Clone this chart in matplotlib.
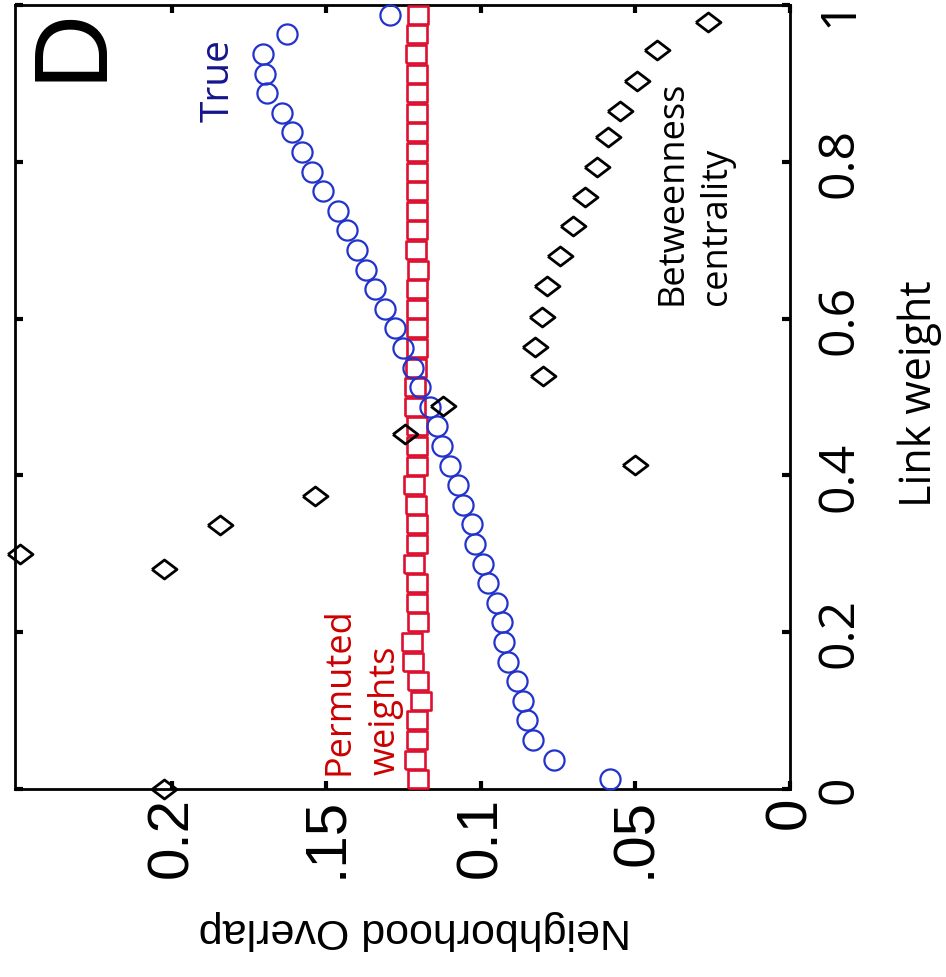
import matplotlib
matplotlib.use("Agg")
import matplotlib.pyplot as plt
import matplotlib.transforms as mtransforms
import numpy as np

# ---------------- data ----------------
# link weight bins (40 bins) for "True" and "Permuted weights"
weights_true = [0.0125, 0.0375, 0.0625, 0.0875, 0.1125, 0.1375, 0.1625, 0.1875,
                0.2125, 0.2375, 0.2625, 0.2875, 0.3125, 0.3375, 0.3625, 0.3875,
                0.4125, 0.4375, 0.4625, 0.4875, 0.5125, 0.5375, 0.5625, 0.5875,
                0.6125, 0.6375, 0.6625, 0.6875, 0.7125, 0.7375, 0.7625, 0.7875,
                0.8125, 0.8375, 0.8625, 0.8875, 0.9125, 0.9375, 0.9625, 0.9875]
overlap_true = [0.0583, 0.0764, 0.0832, 0.0851, 0.0864, 0.0883, 0.0913, 0.0926,
                0.0932, 0.0948, 0.0977, 0.0994, 0.1019, 0.1029, 0.1058, 0.1074,
                0.1100, 0.1126, 0.1142, 0.1165, 0.1197, 0.1220, 0.1252, 0.1278,
                0.1311, 0.1343, 0.1372, 0.1401, 0.1434, 0.1463, 0.1511, 0.1547,
                0.1579, 0.1612, 0.1644, 0.1693, 0.1699, 0.1706, 0.1628, 0.1294]
overlap_permuted = [0.1203, 0.1214, 0.1208, 0.1208, 0.1195, 0.1203, 0.1219, 0.1224,
                    0.1203, 0.1206, 0.1208, 0.1216, 0.1208, 0.1206, 0.1210, 0.1216,
                    0.1206, 0.1208, 0.1208, 0.1214, 0.1214, 0.1210, 0.1206, 0.1206,
                    0.1208, 0.1208, 0.1203, 0.1210, 0.1208, 0.1206, 0.1208, 0.1208,
                    0.1208, 0.1208, 0.1206, 0.1208, 0.1208, 0.1210, 0.1208, 0.1203]
weights_btw = [0.0, 0.281, 0.300, 0.337, 0.374, 0.413, 0.453, 0.489, 0.527, 0.564,
               0.602, 0.642, 0.680, 0.718, 0.755, 0.793, 0.832, 0.865, 0.903,
               0.943, 0.978]
overlap_btw = [0.2026, 0.2026, 0.2492, 0.1845, 0.1537, 0.0502, 0.1246, 0.1123,
               0.0799, 0.0825, 0.0803, 0.0786, 0.0744, 0.0702, 0.0663, 0.0625,
               0.0589, 0.0550, 0.0495, 0.0430, 0.0265]

overlap_ticks = [0, 0.05, 0.1, 0.15, 0.2]
overlap_ticklabels = ["0", ".05", "0.1", ".15", "0.2"]
weight_ticks = [0, 0.2, 0.4, 0.6, 0.8, 1.0]
weight_ticklabels = ["0", "0.2", "0.4", "0.6", "0.8", "1"]

# ---------------- figure ----------------
W, H = 946, 978
fig = plt.figure(figsize=(W / 100, H / 100), dpi=100)
ax = fig.add_axes([15 / W, (H - 790) / H, 775 / W, 784 / H])

diamond = [(-1, 0), (0, 0.76), (1, 0), (0, -0.76), (-1, 0)]
rect = [(-1, -0.88), (1, -0.88), (1, 0.88), (-1, 0.88), (-1, -0.88)]

ax.plot(overlap_permuted, weights_true, linestyle="none", marker=rect,
        markersize=14, markerfacecolor="none", markeredgecolor="#dd1030",
        markeredgewidth=1.9, clip_on=False, zorder=3)
ax.plot(overlap_true, weights_true, linestyle="none", marker="o",
        markersize=14.5, markerfacecolor="none", markeredgecolor="#2233cc",
        markeredgewidth=1.6, clip_on=False, zorder=4)
ax.plot(overlap_btw, weights_btw, linestyle="none", marker=diamond,
        markersize=18, markerfacecolor="none", markeredgecolor="black",
        markeredgewidth=2.0, clip_on=False, zorder=5)

ax.set_xlim(0.2508, 0)
ax.set_ylim(0, 1)

ax.set_xticks(overlap_ticks)
ax.set_xticklabels(overlap_ticklabels, rotation=90, fontsize=42,
                   family="Liberation Sans")
ax.set_yticks(weight_ticks)
ax.set_yticklabels(weight_ticklabels, rotation=90, fontsize=36,
                   family="Open Sans", va="center")

ax.tick_params(axis="both", which="both", direction="in", length=6, width=3,
               top=True, bottom=True, left=True, right=True,
               labelleft=False, labelright=True, labelbottom=True)
ax.tick_params(axis="x", pad=5)
ax.tick_params(axis="y", pad=18)
for s in ax.spines.values():
    s.set_linewidth(2)
    s.set_color("black")

# nudge the top "1" label slightly down so it stays inside the figure
top_label = ax.yaxis.get_major_ticks()[-1].label2
top_label.set_transform(top_label.get_transform() +
                        mtransforms.ScaledTranslation(0, -0.07, fig.dpi_scale_trans))

ax.set_xlabel("Neighborhood Overlap", rotation=180, fontsize=31,
              family="Liberation Sans")
ax.xaxis.set_label_coords(0.516, -0.1786)
ax.xaxis.label.set_va("center")

ax.yaxis.set_label_position("right")
ax.set_ylabel("Link weight", rotation=90, fontsize=31, family="Open Sans")
ax.yaxis.set_label_coords(1.1677, 0.505)
ax.yaxis.label.set_va("center")
ax.yaxis.label.set_ha("center")

# annotations
ax.text(0.232, 0.952, "D", rotation=90, fontsize=75, family="Liberation Sans",
        ha="center", va="center", color="black")
ax.text(0.191, 0.852, "True", rotation=90, fontsize=28, family="Open Sans",
        ha="left", va="bottom", color="#14148c")
ax.text(0.1515, 0.019, "Permuted\nweights", rotation=90, fontsize=26,
        family="Open Sans", ha="left", va="bottom", color="#cc0000",
        linespacing=1.35, multialignment="left")
ax.text(0.0437, 0.619, "Betweenness\ncentrality", rotation=90, fontsize=26,
        family="Open Sans", ha="left", va="bottom", color="black",
        linespacing=1.3, multialignment="left")

fig.savefig("out.png", dpi=100)
